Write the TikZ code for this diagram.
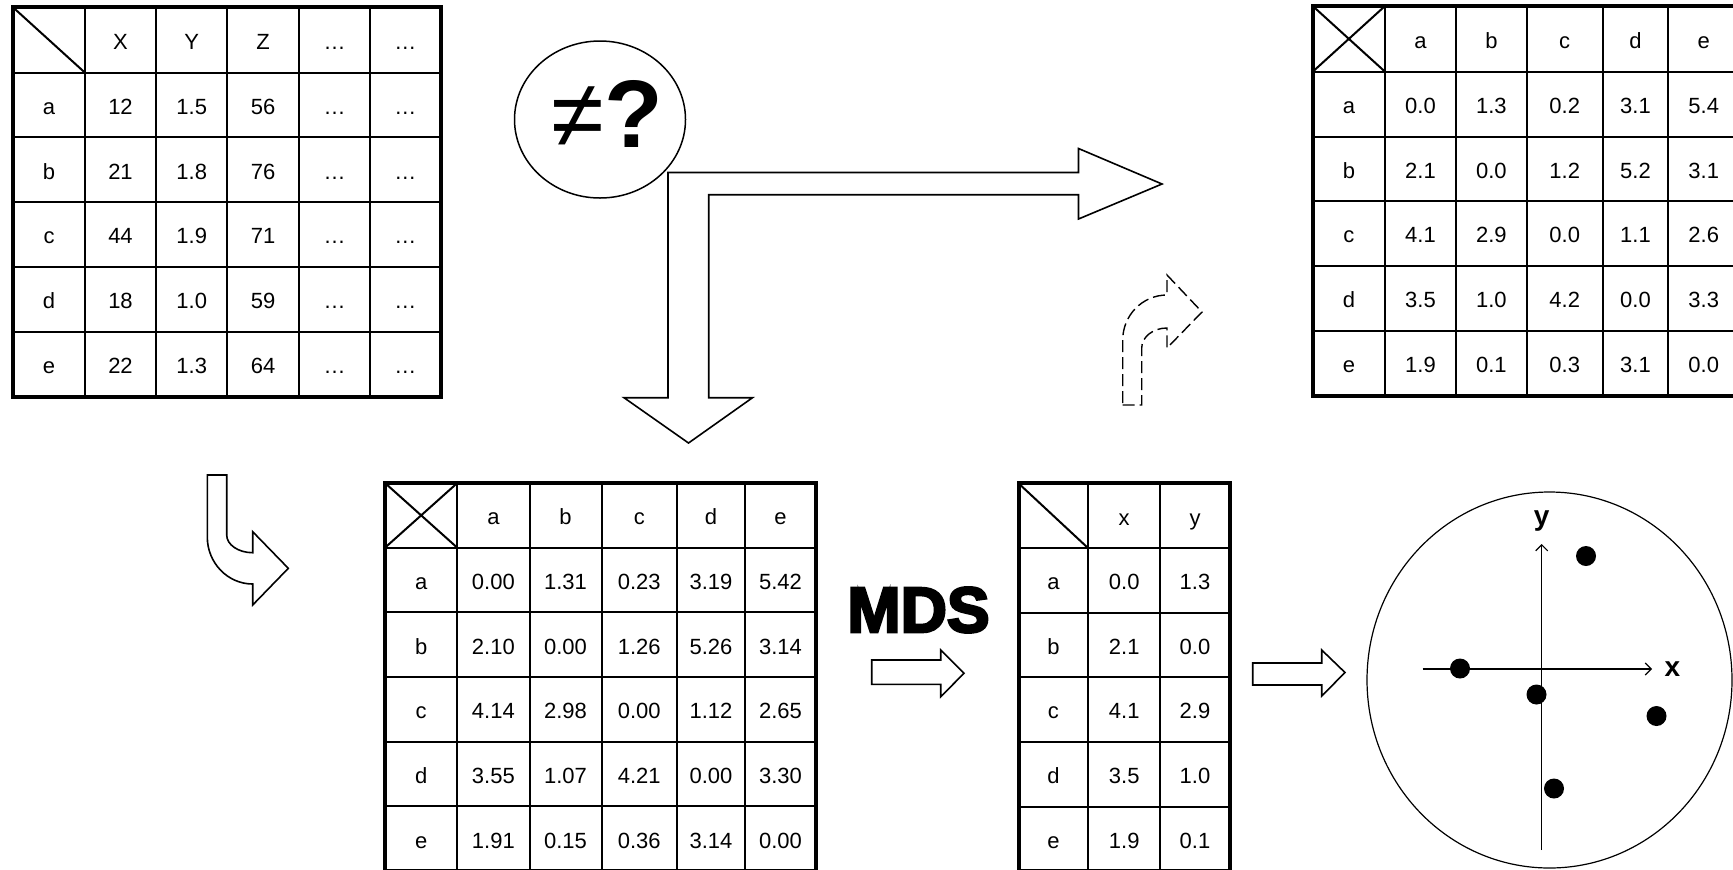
\documentclass[tikz,border=0pt]{standalone}
\usepackage{fontspec}
\setmainfont{Liberation Sans}
\newfontfamily\heavyfont[FakeBold=4]{Liberation Sans Bold}
\usetikzlibrary{arrows.meta,shapes.geometric}

\tikzset{
  cell/.style={anchor=base, inner sep=0pt, font=\fontsize{11}{13}\selectfont},
  gridline/.style={line width=1pt},
  frame/.style={line width=2pt, line join=miter},
  blockarrow/.style={draw, line width=0.8pt, line join=miter},
  dasharrow/.style={draw, line width=0.7pt, dash pattern=on 6pt off 2.5pt, line join=miter},
  dot/.style={circle, fill=black, minimum size=10pt, inner sep=0pt},
  plotline/.style={line width=0.6pt},
  axis/.style={line width=0.6pt, -{Straight Barb[length=3pt,width=6pt]}},
  axislabel/.style={inner sep=0pt, font=\bfseries\fontsize{14}{16}\selectfont},
}

% #1 prefix, #2 x-centre array, #3 baseline array, #4 rows
\newcommand\tabletext[4]{%
  \foreach \rowlist [count=\r from 0] in {#4} {
    \foreach \t [count=\c from 0] in \rowlist {
      \pgfmathsetmacro\cx{#2[\c]}
      \pgfmathsetmacro\cy{#3[\r]}
      \node[cell] (#1-\r-\c) at (\cx,\cy) {\t};
    }
  }
}

\begin{document}
\begin{tikzpicture}[x=0.5pt,y=-0.5pt]
\useasboundingbox (0,0) rectangle (1733,869);
\clip (0,0) rectangle (1733,869);

% ---------- Table A (raw data) ----------
\foreach \y in {72.7,137.3,201.7,266.7,331.7} \draw[gridline] (13,\y) -- (440.7,\y);
\foreach \x in {85,156,227.3,299,370} \draw[gridline] (\x,7.3) -- (\x,396.7);
\draw[gridline] (13,7.3) -- (85,72.7);
\draw[frame] (13,7.3) rectangle (440.7,396.7);
\tabletext{A}{{49,120.5,191.7,263.2,334.5,405.4}}{{49.5,114.5,179,243.7,308.7,373.7}}
 {{{},X,Y,Z,…,…},{a,12,1.5,56,…,…},{b,21,1.8,76,…,…},{c,44,1.9,71,…,…},{d,18,1.0,59,…,…},{e,22,1.3,64,…,…}}

% ---------- Table B (top right) ----------
\foreach \y in {71.7,136.7,201,265.7,330.7} \draw[gridline] (1312.7,\y) -- (1739,\y);
\foreach \x in {1385,1456,1526.7,1602.7,1668.3} \draw[gridline] (\x,6) -- (\x,396);
\draw[gridline] (1312.7,6) -- (1385,71.7) (1385,6) -- (1312.7,71.7);
\draw[frame] (1312.7,6) rectangle (1739,396);
\tabletext{B}{{1348.9,1420.5,1491.4,1564.7,1635.5,1703.7}}{{48.4,113.7,178.4,242.9,307.7,372.9}}
 {{{},a,b,c,d,e},{a,0.0,1.3,0.2,3.1,5.4},{b,2.1,0.0,1.2,5.2,3.1},{c,4.1,2.9,0.0,1.1,2.6},{d,3.5,1.0,4.2,0.0,3.3},{e,1.9,0.1,0.3,3.1,0.0}}

% ---------- Table C (bottom middle) ----------
\foreach \y in {547.7,612.3,677,741.7,806.3} \draw[gridline] (385,\y) -- (816,\y);
\foreach \x in {457.3,529.5,601.5,677,745} \draw[gridline] (\x,483) -- (\x,871);
\draw[gridline] (385,483) -- (457.3,547.7) (457.3,483) -- (385,547.7);
\draw[frame] (385,483) rectangle (816,871);
\tabletext{C}{{421.2,493.4,565.5,639.3,711,780.5}}{{524.8,589.5,654.2,718.8,783.5,848.2}}
 {{{},a,b,c,d,e},{a,0.00,1.31,0.23,3.19,5.42},{b,2.10,0.00,1.26,5.26,3.14},{c,4.14,2.98,0.00,1.12,2.65},{d,3.55,1.07,4.21,0.00,3.30},{e,1.91,0.15,0.36,3.14,0.00}}

% ---------- Table D (coordinates) ----------
\foreach \y in {548.3,612.5,677,741.7,806.5} \draw[gridline] (1018.5,\y) -- (1230,\y);
\foreach \x in {1088.3,1160} \draw[gridline] (\x,483.3) -- (\x,871);
\draw[gridline] (1018.5,483.3) -- (1088.3,548.3);
\draw[frame] (1018.5,483.3) rectangle (1230,871);
\tabletext{D}{{1053.4,1124.2,1195}}{{525,589.9,654.3,718.8,783.6,848.2}}
 {{{},x,y},{a,0.0,1.3},{b,2.1,0.0},{c,4.1,2.9},{d,3.5,1.0},{e,1.9,0.1}}

% ---------- big L-shaped block arrow ----------
\draw[blockarrow] (668,172.5) -- (1078.5,172.5) -- (1078.5,148.5) -- (1162,184)
  -- (1078.5,219) -- (1078.5,194.7) -- (708.7,194.7) -- (708.7,397.7)
  -- (752.5,397.7) -- (688.5,443) -- (624,397.7) -- (668,397.7) -- cycle;

% ---------- bubble with not-equal ----------
\node[draw, ellipse, line width=0.75pt, minimum width=85.5pt, minimum height=78.5pt, inner sep=0pt] (bubble) at (600,119.5) {};
\node[anchor=base west, inner sep=0pt, font=\fontsize{48}{50}\selectfont] (neq) at (551,147) {≠\textbf{?}};

% ---------- bent arrow (left) ----------
\draw[blockarrow] (207.3,475) -- (226.7,475) -- (226.7,535)
  .. controls (226.7,544.7) and (238.4,552.7) .. (252.7,552.7)
  -- (252.7,531.7) -- (288.3,568.3) -- (252.7,605) -- (252.7,584)
  .. controls (227.7,584) and (207.3,562.9) .. (207.3,537) -- cycle;

% ---------- dashed bent arrow ----------
\draw[dasharrow] (1122.7,405) -- (1141.7,405) -- (1141.7,348)
  .. controls (1141.7,337) and (1153,328) .. (1167,328)
  -- (1167,348) -- (1202,312) -- (1167,275) -- (1167,295)
  .. controls (1142.6,295) and (1122.7,315.2) .. (1122.7,340) -- cycle;

% ---------- MDS label and arrow ----------
\node[anchor=base west, inner sep=0pt, font=\heavyfont\fontsize{32}{34}\selectfont] (mds) at (847,632) {MDS};
\draw[blockarrow] (871.7,660) -- (940.7,660) -- (940.7,650) -- (964,673.3)
  -- (940.7,696.7) -- (940.7,684.3) -- (871.7,684.3) -- cycle;

% ---------- arrow to plot ----------
\draw[blockarrow] (1252.7,663) -- (1321.7,663) -- (1321.7,650) -- (1345,672.5)
  -- (1321.7,696) -- (1321.7,685) -- (1252.7,685) -- cycle;

% ---------- scatter plot ----------
\draw[plotline] (1549.5,680) ellipse [x radius=182.5, y radius=188];
\coordinate (xs) at (1422.7,669);
\coordinate (xe) at (1652,669);
\coordinate (ys) at (1541.7,850);
\coordinate (ye) at (1541.7,544);
\draw[axis] (xs) -- (xe);
\draw[axis] (ys) -- (ye);
\node[axislabel] (ylab) at (1541.7,521) {y};
\node[axislabel] (xlab) at (1672.5,669) {x};
\node[dot] (p1) at (1586,556) {};
\node[dot] (p2) at (1460,668.5) {};
\node[dot] (p3) at (1536.5,694.5) {};
\node[dot] (p4) at (1656.5,716) {};
\node[dot] (p5) at (1554,788.5) {};
\end{tikzpicture}
\end{document}
